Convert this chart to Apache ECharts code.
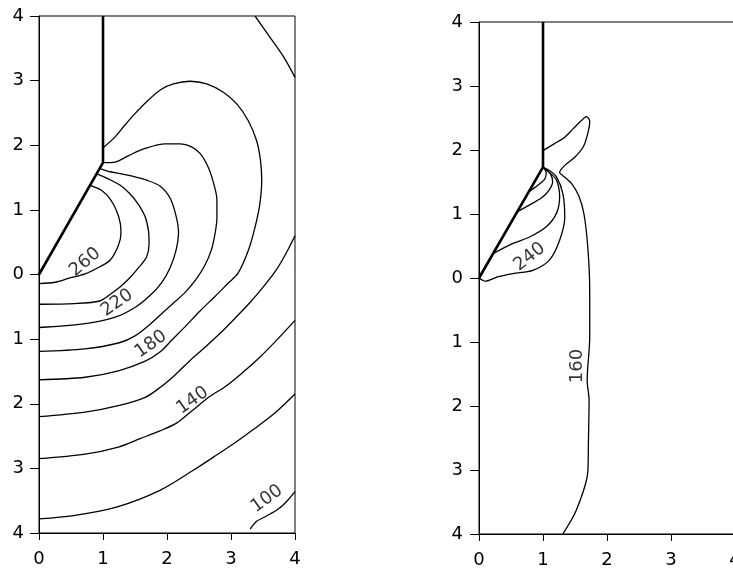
<!DOCTYPE html>
<html>
<head>
<meta charset="utf-8">
<script src="https://cdn.jsdelivr.net/npm/echarts@6/dist/echarts.min.js"></script>
<style>
html,body{margin:0;padding:0;background:#fff;}
#c{width:733px;height:569px;}
</style>
</head>
<body>
<div id="c"></div>
<script>
// ---- data (x, y in plot units; y shown as absolute value on the axis) ----
const xTicks = [0, 1, 2, 3, 4];
const yTicks = [-4, -3, -2, -1, 0, 1, 2, 3, 4];

const wedge = [[0, 0], [1, 1.732], [1, 4]];

// left panel contours
const L260 = [[0,-0.14],[0.25,-0.12],[0.46,-0.06],[0.72,0.01],[0.95,0.12],[1.11,0.22],[1.24,0.45],[1.28,0.63],[1.27,0.79],[1.21,0.99],[1.11,1.17],[0.98,1.30],[0.80,1.38]];
const L240 = [[0,-0.46],[0.56,-0.45],[0.95,-0.41],[1.11,-0.31],[1.27,-0.19],[1.42,-0.05],[1.56,0.11],[1.68,0.27],[1.72,0.48],[1.71,0.68],[1.66,0.89],[1.55,1.09],[1.42,1.25],[1.27,1.38],[1.08,1.48],[0.90,1.56]];
const L220 = [[0,-0.82],[0.72,-0.76],[1.19,-0.66],[1.5,-0.51],[1.73,-0.33],[1.92,-0.12],[2.05,0.11],[2.14,0.37],[2.18,0.65],[2.14,0.91],[2.05,1.18],[1.89,1.37],[1.68,1.46],[1.5,1.51],[1.27,1.56],[1.11,1.59],[0.95,1.64]];
const L200 = [[0,-1.19],[0.72,-1.15],[1.24,-1.06],[1.5,-0.95],[1.70,-0.80],[1.89,-0.63],[2.08,-0.46],[2.28,-0.28],[2.45,-0.08],[2.59,0.14],[2.69,0.37],[2.75,0.63],[2.78,0.88],[2.78,1.15],[2.70,1.51],[2.63,1.69],[2.52,1.87],[2.39,1.97],[2.20,2.02],[1.97,2.02],[1.66,1.95],[1.40,1.84],[1.19,1.74],[1.0,1.73]];
const L180 = [[0,-1.63],[0.72,-1.59],[1.24,-1.49],[1.66,-1.34],[1.89,-1.20],[2.08,-1.01],[2.28,-0.81],[2.52,-0.56],[2.75,-0.34],[2.95,-0.14],[3.11,0.02],[3.27,0.37],[3.375,0.73],[3.45,1.09],[3.48,1.46],[3.46,1.77],[3.40,2.07],[3.27,2.38],[3.09,2.64],[2.88,2.82],[2.62,2.95],[2.36,2.99],[2.10,2.95],[1.90,2.86],[1.71,2.70],[1.5,2.49],[1.34,2.31],[1.19,2.13],[1.0,1.96]];
const L160 = [[0,-2.20],[0.72,-2.13],[1.24,-2.03],[1.66,-1.90],[1.89,-1.75],[2.13,-1.55],[2.36,-1.33],[2.59,-1.13],[2.83,-0.91],[3.06,-0.68],[3.30,-0.43],[3.53,-0.16],[3.70,0.06],[3.84,0.29],[4,0.60]];
const L160top = [[3.375,4],[3.61,3.67],[3.82,3.37],[4,3.05]];
const L140 = [[0,-2.85],[0.72,-2.78],[1.24,-2.67],[1.58,-2.54],[1.89,-2.42],[2.15,-2.30],[2.39,-2.11],[2.65,-1.90],[2.93,-1.72],[3.19,-1.51],[3.45,-1.28],[3.71,-1.02],[4,-0.71]];
const L120 = [[0,-3.78],[0.54,-3.73],[1.21,-3.60],[1.89,-3.34],[2.41,-3.03],[2.72,-2.83],[3.04,-2.62],[3.375,-2.38],[3.69,-2.14],[4,-1.85]];
const L100 = [[3.30,-3.94],[3.40,-3.82],[3.55,-3.74],[3.75,-3.62],[3.88,-3.50],[4,-3.36]];

// right panel contours
const R160 = [[1,1.99],[1.18,2.10],[1.34,2.20],[1.47,2.33],[1.60,2.46],[1.68,2.52],[1.73,2.45],[1.70,2.26],[1.63,2.05],[1.50,1.89],[1.34,1.76],[1.26,1.65],[1.31,1.60],[1.45,1.47],[1.56,1.28],[1.64,1.0],[1.70,0.48],[1.73,-0.19],[1.73,-0.92],[1.69,-1.60],[1.72,-1.91],[1.71,-2.54],[1.70,-3.03],[1.52,-3.63],[1.31,-4.0]];
const R240 = [[0,0],[0.10,-0.05],[0.30,0.02],[0.53,0.07],[0.84,0.12],[1.10,0.28],[1.26,0.59],[1.34,0.95],[1.31,1.32],[1.21,1.58],[1.10,1.68],[1.0,1.73]];
const R260 = [[0.22,0.38],[0.53,0.54],[0.79,0.64],[1.05,0.80],[1.21,1.01],[1.26,1.27],[1.21,1.53],[1.10,1.65],[1.0,1.73]];
const R280 = [[0.61,1.04],[0.84,1.17],[1.0,1.27],[1.10,1.38],[1.15,1.50],[1.12,1.62],[1.0,1.73]];
const R300 = [[0.78,1.35],[0.92,1.45],[1.03,1.55],[1.05,1.65],[1.0,1.73]];

// contour labels: text, x, y
const leftLabels = [['260',0.72,0.19],['220',1.22,-0.44],['180',1.75,-1.08],['140',2.40,-1.95],['100',3.56,-3.47]];
const rightLabels = [['240',0.79,0.33],['160',1.53,-1.375]];
const leftLabelRot = [40, 35, 35, 35, 36];
const rightLabelRot = [38, 90];

// ---- chart ----
const FONT = 'DejaVu Sans';
const chart = echarts.init(document.getElementById('c'), null, {renderer: 'canvas'});

function xAx(i) {
  return {
    type: 'value', gridIndex: i, min: 0, max: 4, interval: 1,
    axisLine: {show: true, onZero: false, lineStyle: {color: '#000', width: 1}},
    axisTick: {show: true, length: 7, lineStyle: {color: '#000', width: 1}},
    axisLabel: {color: '#000', fontSize: 18, fontFamily: FONT, margin: 17, hideOverlap: false},
    splitLine: {show: false}
  };
}
function yAx(i, m) {
  return {
    type: 'value', gridIndex: i, min: -4, max: 4, interval: 1,
    axisLine: {show: true, onZero: false, lineStyle: {color: '#000', width: 1}},
    axisTick: {show: true, length: 9, lineStyle: {color: '#000', width: 1}},
    axisLabel: {color: '#000', fontSize: 18, fontFamily: FONT, margin: m,
      formatter: v => String(Math.abs(v))},
    splitLine: {show: false}
  };
}
function contour(d, i) {
  return {
    type: 'line', data: d, xAxisIndex: i, yAxisIndex: i,
    showSymbol: false, symbol: 'none', smooth: 0.3, clip: true,
    lineStyle: {color: '#000', width: 1.3}, silent: true, z: 3
  };
}
function wall(i) {
  return {
    type: 'line', data: wedge, xAxisIndex: i, yAxisIndex: i,
    showSymbol: false, symbol: 'none', clip: true,
    lineStyle: {color: '#000', width: 2.6}, silent: true, z: 4
  };
}
function labels(arr, rots, i) {
  return {
    type: 'scatter', xAxisIndex: i, yAxisIndex: i, symbolSize: 1,
    itemStyle: {color: 'rgba(0,0,0,0)'}, silent: true, z: 5,
    data: arr.map((a, k) => ({
      value: [a[1], a[2]], name: a[0],
      label: {rotate: rots[k]}
    })),
    label: {
      show: true, position: 'inside', formatter: p => p.name,
      color: '#000', fontSize: 18, fontFamily: FONT,
      align: 'center', verticalAlign: 'middle'
    }
  };
}

const series = [];
[L260, L240, L220, L200, L180, L160, L160top, L140, L120, L100].forEach(d => series.push(contour(d, 0)));
[R160, R240, R260, R280, R300].forEach(d => series.push(contour(d, 1)));
series.push(wall(0), wall(1));
series.push(labels(leftLabels, leftLabelRot, 0), labels(rightLabels, rightLabelRot, 1));

chart.setOption({
  animation: false,
  backgroundColor: '#fff',
  grid: [
    {left: 39, top: 16, width: 256, height: 517, containLabel: false, outerBoundsMode: 'none',
     show: true, borderColor: '#000', borderWidth: 1, backgroundColor: 'transparent'},
    {left: 479, top: 22, width: 256, height: 512, containLabel: false, outerBoundsMode: 'none',
     show: true, borderColor: '#000', borderWidth: 1, backgroundColor: 'transparent'}
  ],
  xAxis: [xAx(0), xAx(1)],
  yAxis: [yAx(0, 15), yAx(1, 16)],
  series: series
});
</script>
</body>
</html>
